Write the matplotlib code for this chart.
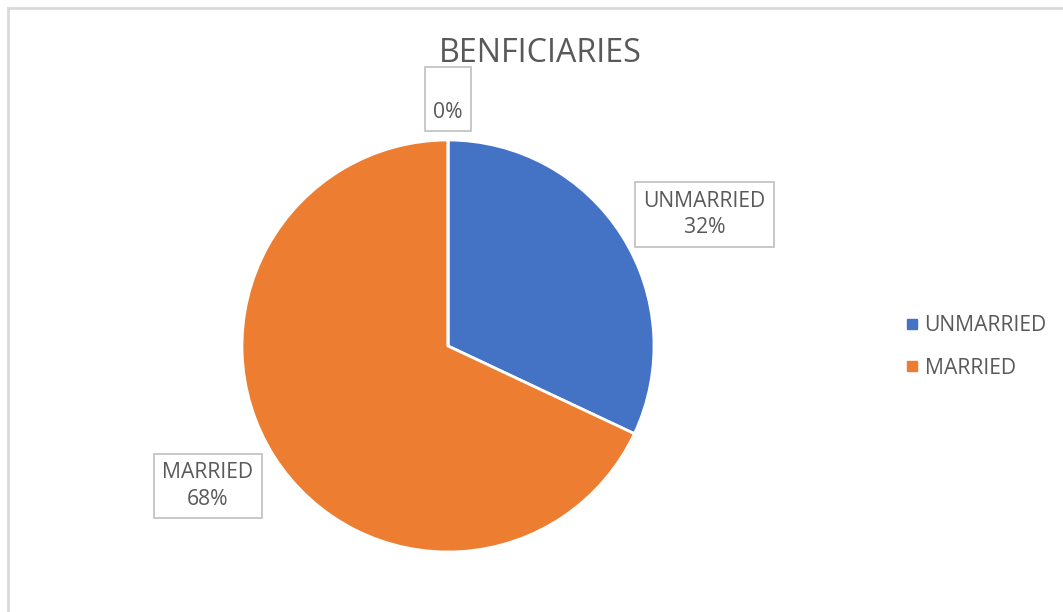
import numpy as np
import matplotlib.pyplot as plt
from matplotlib.lines import Line2D

categories = ['UNMARRIED', 'MARRIED', '']
shares = [32, 68, 0]
colors = ['#4472C4', '#ED7D31', '#A5A5A5']
# where each data label sits: distance in pie radii, angle nudge in degrees
label_dist = [1.40, 1.35, 1.20]
label_turn = [-5.3, -2.2, 0.0]

text_color = '#595959'
plt.rcParams['font.family'] = ['Open Sans', 'DejaVu Sans']

fig = plt.figure(figsize=(10.63, 6.12), dpi=100)
ax = fig.add_axes([0, 0, 1, 1])
ax.set_axis_off()

# pie works in pixel-sized data units so the layout is easy to place
cx, cy, r = 448, 266, 206
wedges, _ = ax.pie(shares, colors=colors, startangle=90, counterclock=False,
                   center=(cx, cy), radius=r,
                   wedgeprops=dict(edgecolor='white', linewidth=2))
ax.set_xlim(0, 1063)
ax.set_ylim(0, 612)
ax.set_aspect('equal')

for w, cat, val, d, t in zip(wedges, categories, shares, label_dist, label_turn):
    ang = np.deg2rad((w.theta1 + w.theta2) / 2 + t)
    x = cx + d * r * np.cos(ang)
    y = cy + d * r * np.sin(ang)
    ax.text(x, y, f'{cat}\n{val}%', ha='center', va='center', fontsize=15.2,
            color=text_color, linespacing=1.35,
            bbox=dict(boxstyle='square,pad=0.4', facecolor='white',
                      edgecolor='#BFBFBF', linewidth=1.2))

ax.text(540, 559, 'BENFICIARIES', ha='center', va='center', fontsize=23.2,
        color=text_color)

# chart frame, only top and left edges fall inside the image
ax.plot([8, 8], [0, 604], color='#D9D9D9', lw=2)
ax.plot([8, 1063], [604, 604], color='#D9D9D9', lw=2)

handles = [Line2D([], [], marker='s', linestyle='None', markersize=7,
                  markerfacecolor=c, markeredgecolor=c) for c in colors[:2]]
ax.legend(handles, categories[:2], loc='center left', bbox_to_anchor=(0.831, 0.433),
          frameon=False, fontsize=15.2, labelcolor=text_color,
          handletextpad=0.15, labelspacing=1.0, handlelength=0.9)

fig.savefig('out.png', dpi=100)
